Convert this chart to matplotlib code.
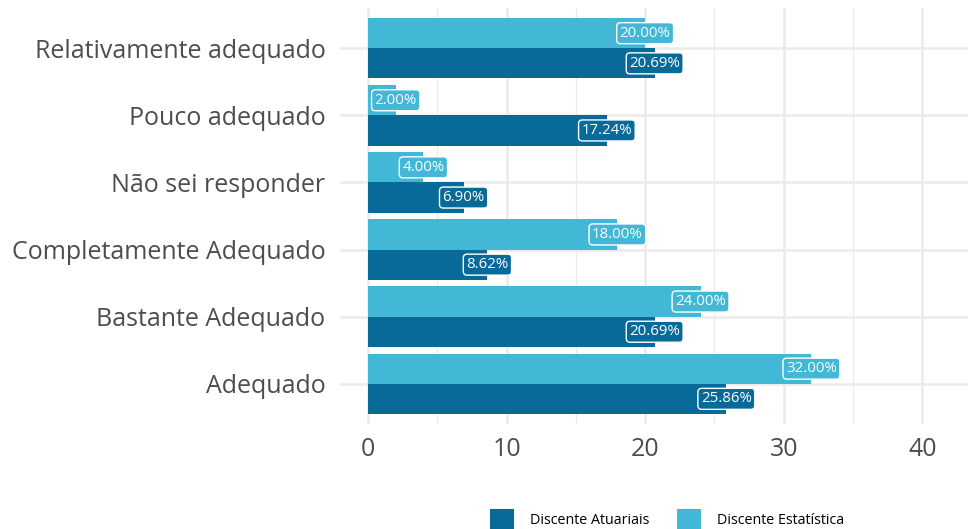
import matplotlib
matplotlib.use("Agg")
import matplotlib.pyplot as plt
import numpy as np
from matplotlib.patches import Patch

categories = ["Adequado", "Bastante Adequado", "Completamente Adequado",
              "Não sei responder", "Pouco adequado", "Relativamente adequado"]
atuariais = [25.86, 20.69, 8.62, 6.90, 17.24, 20.69]
estatistica = [32.00, 24.00, 18.00, 4.00, 2.00, 20.00]
series_names = ["Discente Atuariais", "Discente Estatística"]
colors = ["#076A99", "#42B7D6"]
xticks = [0, 10, 20, 30, 40]

plt.rcParams['font.family'] = ['Open Sans', 'DejaVu Sans']

W, H = 970, 529
fig = plt.figure(figsize=(W / 100, H / 100), dpi=100)
ax = fig.add_axes([340 / W, (H - 424) / H, (968 - 340) / W, (424 - 8) / H])

y = np.arange(1, len(categories) + 1)
bw = 0.45
for vals, off, col in [(atuariais, -bw / 2, colors[0]), (estatistica, bw / 2, colors[1])]:
    ax.barh(y + off, vals, height=bw, color=col, zorder=2)
    for yi, v in zip(y + off, vals):
        ax.text(v, yi, f"{v:.2f}%", ha="center", va="center", color="white",
                fontsize=10.8, zorder=4,
                bbox=dict(boxstyle="round,pad=0.2,rounding_size=0.25",
                          fc=col, ec="white", lw=1.0))

ax.set_xlim(-2.02, 43.3)
ax.set_ylim(0.4, 6.6)
ax.set_xticks(xticks)
ax.set_xticks([5, 15, 25, 35], minor=True)
ax.set_yticks(y)
ax.set_yticklabels(categories)
ax.tick_params(axis="y", length=0, labelsize=18, colors="#4D4D4D", pad=10.5)
ax.tick_params(axis="x", length=0, labelsize=18, colors="#4D4D4D", pad=9)
ax.tick_params(axis="x", which="minor", length=0)
ax.grid(True, which="major", color="#EBEBEB", lw=1.8, zorder=0)
ax.grid(True, which="minor", axis="x", color="#EBEBEB", lw=0.9, zorder=0)
ax.set_axisbelow(True)
for s in ax.spines.values():
    s.set_visible(False)

handles = [Patch(facecolor=c, edgecolor="none") for c in colors]
fig.legend(handles, series_names, loc="center", bbox_to_anchor=(667 / W, (H - 519) / H),
           ncol=2, frameon=False, fontsize=10.3, handlelength=1.68, handleheight=1.68,
           columnspacing=1.95, handletextpad=1.1)

fig.savefig("out.png", dpi=100)
